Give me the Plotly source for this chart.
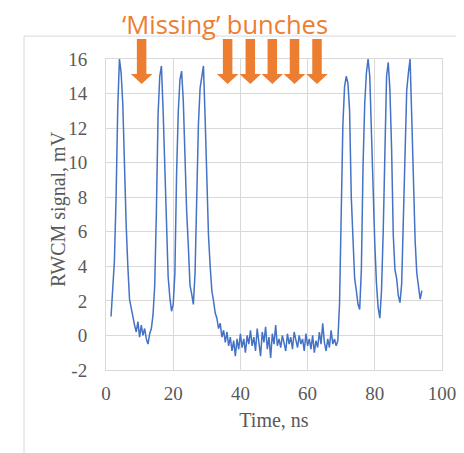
import numpy as np
import plotly.graph_objects as go

# ---- data (RWCM signal, mV), sampled every 0.5 ns starting at 1.5 ns ----
t_start = 1.5
t_step = 0.5
signal_early = [
    # 1.5 .. 6.0
    1.1, 2.6, 4.3, 8.0, 13.2, 16.0, 15.2, 13.4, 9.6, 6.4,
    # 6.5 .. 11.0
    4.0, 2.1, 1.6, 1.0, 0.6, 0.2, 0.8, -0.1, 0.6, 0.0,
    # 11.5 .. 16.0
    0.4, -0.2, -0.5, 0.1, 0.4, 1.2, 2.9, 7.2, 12.8, 15.0,
    # 16.5 .. 21.0
    15.6, 13.0, 9.6, 6.8, 3.4, 2.2, 1.4, 1.8, 3.6, 9.3,
    # 21.5 .. 26.0
    12.9, 14.8, 15.3, 13.6, 10.2, 7.2, 5.2, 2.9, 2.4, 1.8,
    # 26.5 .. 31.0
    3.6, 7.5, 12.2, 14.3, 15.0, 15.6, 12.6, 8.6, 5.8, 4.0,
    # 31.5 .. 35.0
    2.6, 2.0, 1.3, 1.0, 0.4, 0.7, -0.1, 0.3,
]
signal_gap = [
    # 35.5 .. 40.0
    -0.4, 0.2, -0.6, -0.1, -0.9, -0.3, -1.2, -0.2, -0.8, 0.1,
    # 40.5 .. 45.0
    -0.7, -0.2, -1.0, 0.0, -0.5, 0.3, -0.6, -0.1, -0.9, 0.4,
    # 45.5 .. 50.0
    -0.3, -1.2, 0.2, -0.4, 0.5, -0.8, -0.1, -1.3, 0.1, -0.5,
    # 50.5 .. 55.0
    0.6, -0.6, -0.2, -0.7, 0.0, -0.4, -0.9, 0.1, -0.5, -0.1,
    # 55.5 .. 60.0
    -0.8, 0.2, -0.3, -0.7, 0.0, -0.5, -0.2, -0.9, 0.1, -0.6,
    # 60.5 .. 65.0
    -0.2, -0.8, 0.0, -1.0, -0.3, -0.7, 0.2, -0.5, 0.7, -0.4,
    # 65.5 .. 69.0
    -0.9, -0.2, -0.7, 0.3, -0.5, -0.2, -0.6, -0.3,
]
signal_late = [
    # 69.5 .. 74.0
    1.8, 7.5, 12.2, 14.4, 15.0, 14.6, 13.0, 8.0, 5.0, 3.3,
    # 74.5 .. 79.0
    2.6, 1.8, 1.5, 3.8, 9.8, 13.4, 15.2, 16.0, 15.0, 11.4,
    # 79.5 .. 84.0
    8.4, 5.3, 3.0, 1.6, 1.0, 2.6, 6.0, 11.0, 15.0, 15.8,
    # 84.5 .. 89.0
    14.2, 10.8, 5.8, 3.8, 3.3, 2.3, 1.9, 3.0, 6.5, 9.4,
    # 89.5 .. 94.0
    14.2, 15.2, 16.0, 12.6, 8.6, 5.5, 3.6, 2.9, 2.1, 2.6,
]
signal = signal_early + signal_gap + signal_late
time_ns = t_start + t_step * np.arange(len(signal))

missing_times = [10.6, 36.2, 42.95, 49.5, 56.1, 62.8]

x_ticks = [0, 20, 40, 60, 80, 100]
y_ticks = [-2, 0, 2, 4, 6, 8, 10, 12, 14, 16]

ORANGE = "#ED7D31"
BLUE = "#4472C4"
GRID = "#D9D9D9"
TXT = "#595959"
SERIF = "Liberation Serif, Times New Roman, serif"

fig = go.Figure()
fig.add_trace(go.Scatter(
    x=time_ns, y=signal, mode="lines",
    line=dict(color=BLUE, width=1.5),
    showlegend=False, hoverinfo="skip",
))

arrow_path = "M -4.75,20 L 4.75,20 L 4.75,-15 L 10.75,-15 L 0,-25 L -10.75,-15 L -4.75,-15 Z"
shapes = []
for mt in missing_times:
    shapes.append(dict(
        type="path", xref="x", yref="paper",
        xsizemode="pixel", ysizemode="pixel",
        xanchor=mt, yanchor=1,
        path=arrow_path,
        fillcolor=ORANGE, line=dict(width=0),
        layer="above",
    ))
# outer chart-area border
shapes.append(dict(
    type="rect", xref="paper", yref="paper",
    x0=-0.244, x1=1.10, y0=-0.35, y1=1.0737,
    line=dict(color=GRID, width=1), fillcolor="rgba(0,0,0,0)",
    layer="below",
))

# page body adds an 8px offset; size the figure to fill the rest of the window
fig.update_layout(
    width=456, height=445,
    margin=dict(l=98, r=22, t=51, b=83, autoexpand=False),
    paper_bgcolor="white", plot_bgcolor="white",
    shapes=shapes,
    annotations=[
        dict(
            text="‘Missing’ bunches", xref="paper", yref="paper",
            x=(225 - 106) / 336, y=1 + (59.3 - 25.5) / 302.4,
            xanchor="center", yanchor="middle", showarrow=False,
            font=dict(family="Open Sans, sans-serif", size=25.5, color=ORANGE),
        ),
        dict(
            text="RWCM signal, mV", xref="paper", yref="paper",
            x=(59 - 106) / 336, y=0.518, textangle=-90,
            xanchor="center", yanchor="middle", showarrow=False,
            font=dict(family=SERIF, size=20, color=TXT),
        ),
    ],
    xaxis=dict(
        range=[0, 100], tickvals=x_ticks, ticktext=[str(v) for v in x_ticks],
        showgrid=True, gridcolor=GRID, gridwidth=1,
        showline=True, linecolor=GRID, linewidth=1, mirror=True,
        zeroline=False, ticks="", ticklabelstandoff=6, automargin=False,
        tickfont=dict(family=SERIF, size=19, color=TXT),
        title=dict(text="Time, ns", font=dict(family=SERIF, size=20, color=TXT), standoff=10),
    ),
    yaxis=dict(
        range=[-2, 16], tickvals=y_ticks, ticktext=[str(v) for v in y_ticks],
        showgrid=True, gridcolor=GRID, gridwidth=1,
        showline=True, linecolor=GRID, linewidth=1, mirror=True,
        zeroline=False, ticks="", ticklabelstandoff=14, automargin=False,
        tickfont=dict(family=SERIF, size=19, color=TXT),
    ),
)

fig.write_html("out.html")
